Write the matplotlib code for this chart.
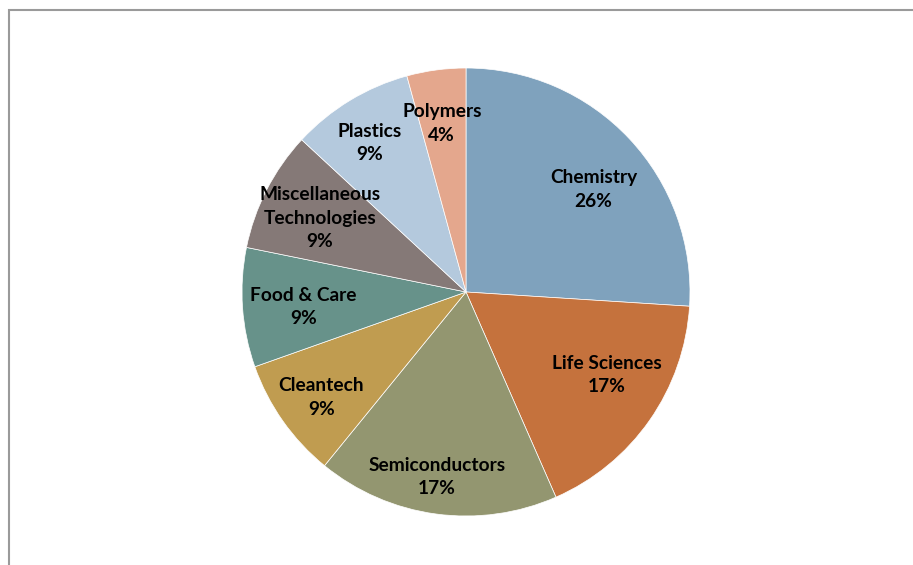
import matplotlib
matplotlib.use('agg')
import matplotlib.pyplot as plt
from matplotlib.patches import Rectangle
import numpy as np

categories = ['Chemistry', 'Life Sciences', 'Semiconductors', 'Cleantech',
              'Food & Care', 'Miscellaneous\nTechnologies', 'Plastics', 'Polymers']
shares = [26.0, 17.4, 17.45, 8.7, 8.6, 8.7, 8.85, 4.25]
colors = ['#7fa2bd', '#c5723d', '#939670', '#c09c50',
          '#67928a', '#857977', '#b4c9dd', '#e4a78d']

# label placement (fraction of radius, angle nudge in degrees)
label_dist = [0.73, 0.73, 0.835, 0.80, 0.73, 0.73, 0.79, 0.76]
label_nudge = [-4.4, 4.4, -1.2, 0.9, 1.3, 0.3, 1.6, 0.5]

W, H = 913, 565
fig = plt.figure(figsize=(W / 100, H / 100), dpi=100)

# grey chart-area frame, cut off on the right and bottom
fig.patches.append(Rectangle((8.5 / W, -0.1), 1.2, 1 - 10 / H + 0.1,
                             transform=fig.transFigure, fill=False,
                             edgecolor='#9a9a9a', linewidth=1.5))

cx, cy, r = 466, H - 292, 224
ax = fig.add_axes([(cx - r) / W, (cy - r) / H, 2 * r / W, 2 * r / H])

total = sum(shares)
labels = [f'{c}\n{v / total * 100:.0f}%' for c, v in zip(categories, shares)]
wedges, texts = ax.pie(shares, labels=labels, colors=colors, startangle=90,
                       counterclock=False,
                       wedgeprops=dict(edgecolor='white', linewidth=0.5),
                       textprops=dict(fontsize=13.8, fontweight='bold',
                                      family=['Lato', 'DejaVu Sans'],
                                      linespacing=1.45))
for w, t, d, n in zip(wedges, texts, label_dist, label_nudge):
    ang = np.deg2rad((w.theta1 + w.theta2) / 2 + n)
    t.set_position((d * np.cos(ang), d * np.sin(ang)))
    t.set_ha('center')
    t.set_va('center')

ax.set_xlim(-1, 1)
ax.set_ylim(-1, 1)
ax.set_aspect('equal')

fig.savefig('out.png', dpi=100)
